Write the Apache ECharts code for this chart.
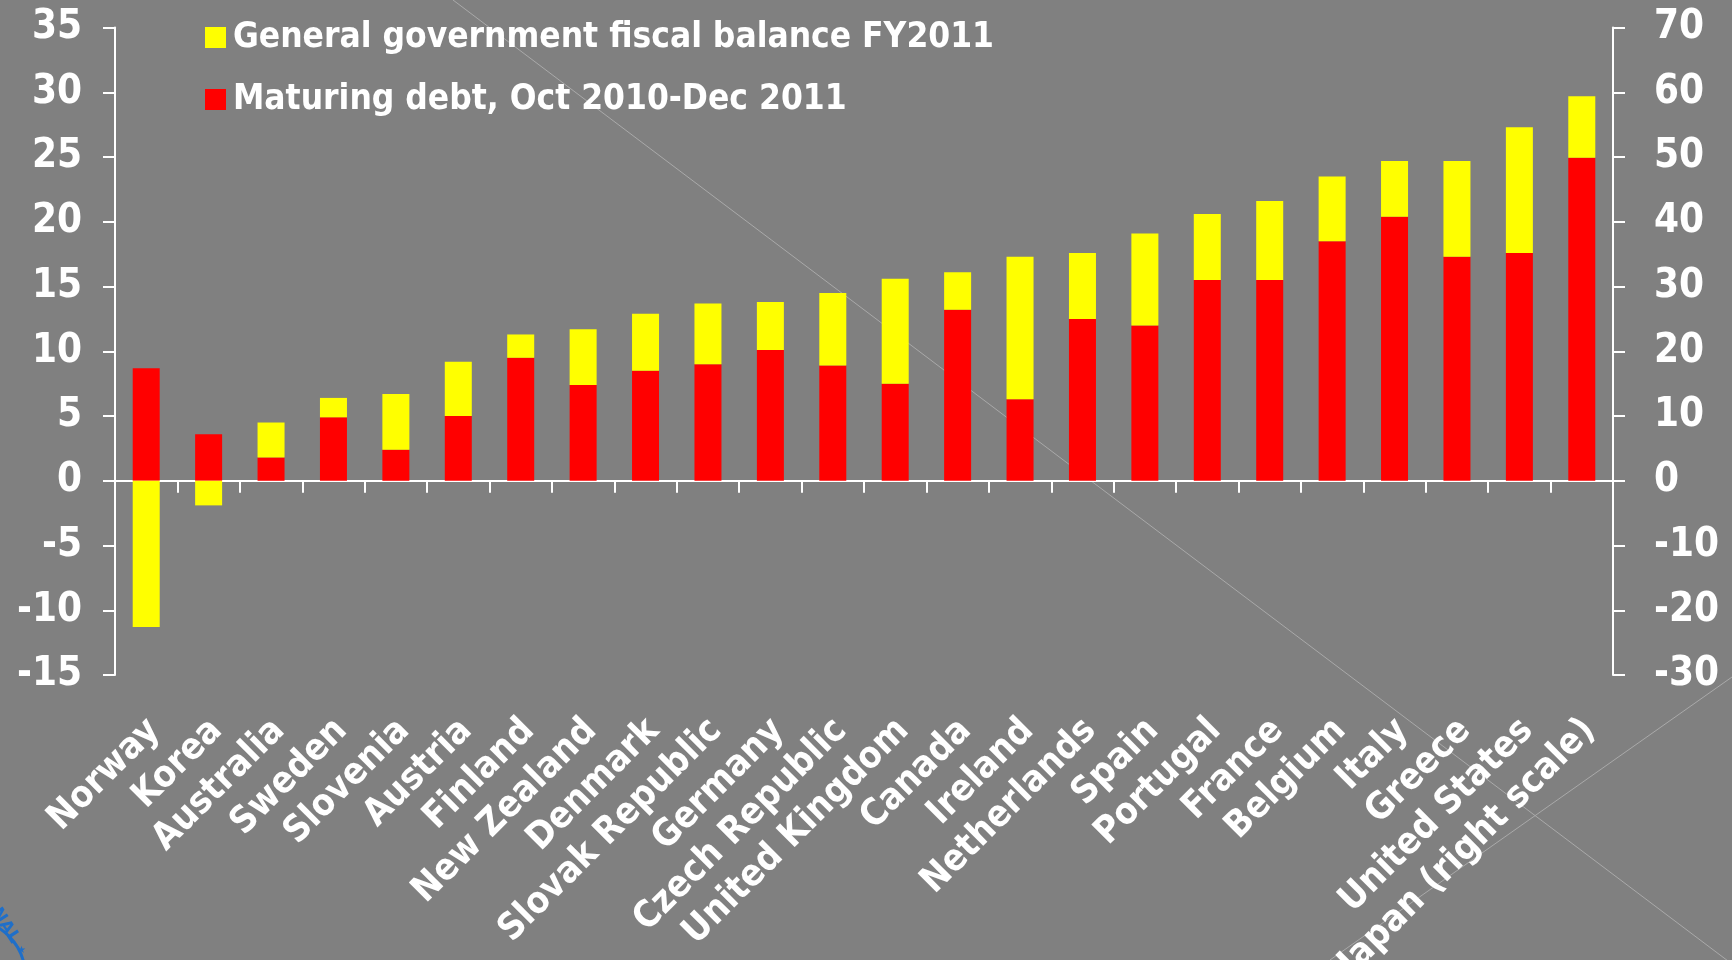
<!DOCTYPE html>
<html>
<head>
<meta charset="utf-8">
<script src="https://cdn.jsdelivr.net/npm/echarts@6/dist/echarts.min.js"></script>
<style>
  html, body { margin: 0; padding: 0; background: #808080; }
  #chart { width: 1732px; height: 960px; }
</style>
</head>
<body>
<div id="chart"></div>
<script>
// Countries, ordered by total height of the stacked bar
const categories = ['Norway', 'Korea', 'Australia', 'Sweden', 'Slovenia', 'Austria', 'Finland',
  'New Zealand', 'Denmark', 'Slovak Republic', 'Germany', 'Czech Republic', 'United Kingdom',
  'Canada', 'Ireland', 'Netherlands', 'Spain', 'Portugal', 'France', 'Belgium', 'Italy',
  'Greece', 'United States', 'Japan (right scale)'];

// Maturing debt, Oct 2010-Dec 2011 (percent of GDP); Japan is read on the right scale
const maturingDebt = [8.7, 3.6, 1.8, 4.9, 2.4, 5.0, 9.5, 7.4, 8.5, 9.0, 10.1, 8.9, 7.5,
  13.2, 6.3, 12.5, 12.0, 15.5, 15.5, 18.5, 20.4, 17.3, 17.6, 49.9];

// General government fiscal balance FY2011 (deficit shown positive)
const fiscalBalance = [-11.3, -1.9, 2.7, 1.5, 4.3, 4.2, 1.8, 4.3, 4.4, 4.7, 3.7, 5.6, 8.1,
  2.9, 11.0, 5.1, 7.1, 5.1, 6.1, 5.0, 4.3, 7.4, 9.7, 9.5];

// Axis ticks
const leftTicks = { min: -15, max: 35, interval: 5 };
const rightTicks = { min: -30, max: 70, interval: 10 };

const rightScaleCountry = 'Japan (right scale)';
const NAME_FISCAL = 'General government fiscal balance FY2011';
const NAME_DEBT = 'Maturing debt, Oct 2010-Dec 2011';

const FONT = "'DejaVu Sans Condensed', 'DejaVu Sans', sans-serif";
const WHITE = '#ffffff';

// Split each series into a left-scale part and a right-scale part
const onLeft = (arr) => arr.map((v, i) => categories[i] === rightScaleCountry ? '-' : v);
const onRight = (arr) => arr.map((v, i) => categories[i] === rightScaleCountry ? v : '-');

const chart = echarts.init(document.getElementById('chart'), null, { renderer: 'canvas' });

const barCommon = { type: 'bar', barWidth: 27, barGap: '-100%', xAxisIndex: 0 };

const option = {
  backgroundColor: '#808080',
  animation: false,
  textStyle: { fontFamily: FONT },
  grid: [
    // plot area
    { left: 115, right: 119, top: 27.6, bottom: 285, containLabel: false, outerBoundsMode: 'none' },
    // category names sit slightly right of the bar centres, below the plot
    { left: 123, right: 111, top: 27.6, bottom: 285, containLabel: false, outerBoundsMode: 'none' }
  ],
  legend: {
    orient: 'vertical',
    left: 200,
    top: 15,
    icon: 'rect',
    itemWidth: 21,
    itemHeight: 21,
    itemGap: 27,
    data: [NAME_FISCAL, NAME_DEBT],
    textStyle: { color: WHITE, fontSize: 35, fontWeight: 'bold', fontFamily: FONT, padding: [0, 0, 0, 2] }
  },
  xAxis: [
    {
      type: 'category',
      gridIndex: 0,
      data: categories,
      axisLine: { onZero: true, lineStyle: { color: WHITE, width: 2 } },
      axisTick: { show: true, interval: 0, length: 12, lineStyle: { color: WHITE, width: 2 } },
      axisLabel: { show: false },
      splitLine: { show: false }
    },
    {
      type: 'category',
      gridIndex: 1,
      data: categories,
      position: 'bottom',
      axisLine: { show: false, onZero: false },
      axisTick: { show: false },
      axisLabel: {
        show: true,
        interval: 0,
        rotate: 45,
        margin: 50,
        color: WHITE,
        fontSize: 37,
        fontWeight: 'bold',
        fontFamily: FONT
      },
      splitLine: { show: false }
    }
  ],
  yAxis: [
    {
      type: 'value',
      gridIndex: 0,
      position: 'left',
      min: leftTicks.min, max: leftTicks.max, interval: leftTicks.interval,
      axisLine: { show: true, lineStyle: { color: WHITE, width: 2 } },
      axisTick: { show: true, length: 12, lineStyle: { color: WHITE, width: 2 } },
      axisLabel: { color: WHITE, fontSize: 40, fontWeight: 'bold', margin: 33, fontFamily: FONT },
      splitLine: { show: false }
    },
    {
      type: 'value',
      gridIndex: 0,
      position: 'right',
      min: rightTicks.min, max: rightTicks.max, interval: rightTicks.interval,
      axisLine: { show: true, lineStyle: { color: WHITE, width: 2 } },
      axisTick: { show: true, length: 12, lineStyle: { color: WHITE, width: 2 } },
      axisLabel: { color: WHITE, fontSize: 40, fontWeight: 'bold', margin: 41, fontFamily: FONT },
      splitLine: { show: false }
    },
    {
      type: 'value',
      gridIndex: 1,
      show: false,
      min: leftTicks.min, max: leftTicks.max
    }
  ],
  graphic: [
    // thin slide-background strokes crossing behind the plot
    { type: 'line', z: 0, silent: true, shape: { x1: 453, y1: 0, x2: 1732, y2: 964 },
      style: { stroke: '#a9a9a9', lineWidth: 1 } },
    { type: 'line', z: 0, silent: true, shape: { x1: 1330, y1: 960, x2: 1732, y2: 677 },
      style: { stroke: '#a9a9a9', lineWidth: 1 } },
    // corner of the seal emblem
    { type: 'circle', z: 0, silent: true, shape: { cx: -30, cy: 975, r: 55 },
      style: { fill: 'none', stroke: '#1f6fc9', lineWidth: 3 } },
    { type: 'text', z: 0, silent: true, x: 2, y: 905, rotation: -1.0,
      style: { text: 'NAL', fill: '#1f6fc9', font: "bold 17px 'DejaVu Sans'" } },
    { type: 'text', z: 0, silent: true, x: 17, y: 945,
      style: { text: '\u2605', fill: '#1f6fc9', font: "10px 'DejaVu Sans'" } }
  ],
  series: [
    Object.assign({}, barCommon, {
      name: NAME_DEBT, stack: 'left', yAxisIndex: 0,
      itemStyle: { color: '#ff0000' }, data: onLeft(maturingDebt)
    }),
    Object.assign({}, barCommon, {
      name: NAME_FISCAL, stack: 'left', yAxisIndex: 0,
      itemStyle: { color: '#ffff00' }, data: onLeft(fiscalBalance)
    }),
    Object.assign({}, barCommon, {
      name: NAME_DEBT, stack: 'right', yAxisIndex: 1,
      itemStyle: { color: '#ff0000' }, data: onRight(maturingDebt)
    }),
    Object.assign({}, barCommon, {
      name: NAME_FISCAL, stack: 'right', yAxisIndex: 1,
      itemStyle: { color: '#ffff00' }, data: onRight(fiscalBalance)
    })
  ]
};

chart.setOption(option);
</script>
</body>
</html>
